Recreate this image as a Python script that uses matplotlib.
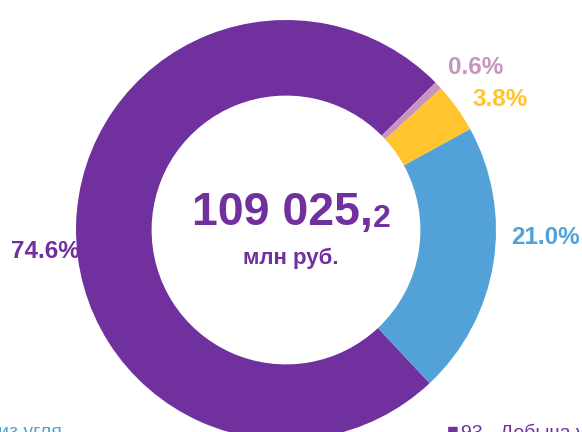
import matplotlib.pyplot as plt

# Data
labels = ['Добыча', 'Прочее', 'Переработка', 'Другое']
shares = [74.6, 21.0, 3.8, 0.6]
colors = ['#70309E', '#52A2D9', '#FFC42E', '#C795BC']
total_main = '109 025,'
total_dec = '2'
unit = 'млн руб.'

plt.rcParams['font.family'] = ['Liberation Sans', 'DejaVu Sans']

fig = plt.figure(figsize=(5.82, 4.32), dpi=100)
ax = fig.add_axes([0, 0, 1, 1])

cx, cy, r = 286, 202, 210
ax.pie(shares, colors=colors, startangle=44.6, counterclock=True,
       center=(cx, cy), radius=r, frame=True,
       wedgeprops=dict(width=r * 0.36, linewidth=0))
ax.set_xlim(0, 582)
ax.set_ylim(0, 432)
ax.set_aspect('equal')
ax.axis('off')

# percentage labels
lab_pos = [(45, 180), (545, 195), (500, 333), (476, 364)]
for (x, y), v, c in zip(lab_pos, shares, colors):
    ax.text(x, y, '%.1f%%' % v, color=c, fontsize=17.5, fontweight='bold',
            ha='center', va='center')

# center text
ax.text(373, 219, total_main, color='#70309E', fontsize=33.5, fontweight='bold',
        ha='right', va='center')
ax.text(373, 213, total_dec, color='#70309E', fontsize=23, fontweight='bold',
        ha='left', va='center')
ax.text(291, 174, unit, color='#70309E', fontsize=16, fontweight='bold',
        ha='center', va='center')

# legend, cut at the bottom edge as in the source
ax.text(-2, 8, 'из угля', color='#52A2D9', fontsize=14, ha='left', va='top')
ax.text(447, 8, '\u25A0', color='#70309E', fontsize=14, ha='left', va='top')
ax.text(461, 8, '93 - Добыча угля', color='#70309E', fontsize=14, ha='left', va='top')

fig.savefig('out.png', dpi=100)
